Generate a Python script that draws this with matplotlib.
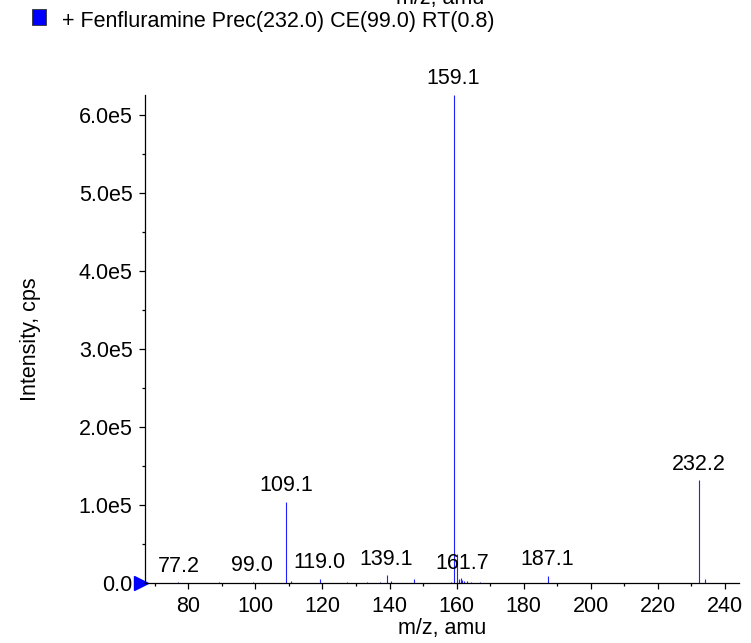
import numpy as np
import matplotlib
matplotlib.use("Agg")
import matplotlib.pyplot as plt
from matplotlib.patches import Rectangle
from matplotlib.ticker import MultipleLocator, FuncFormatter
import matplotlib.transforms as mtransforms

plt.rcParams['font.family'] = ['Liberation Sans', 'DejaVu Sans']

# peak list (m/z, intensity in cps)
mz = [77.0, 89.2, 99.2, 109.1, 110.5, 119.3, 127.2, 133.2, 137.2, 139.4,
      140.3, 147.4, 158.2, 159.1, 160.1, 160.6, 161.2, 161.7, 162.3, 163.1,
      164.2, 167.0, 187.3, 232.3, 234.1]
intensity = [1200, 800, 1500, 104000, 2500, 5500, 1000, 900, 1200, 10000,
             2000, 4500, 1500, 626000, 37000, 5000, 6000, 4000, 3000, 2500,
             1500, 1500, 9500, 132000, 5000]

# labelled peaks (label text, m/z position, intensity)
label_text = ["77.2", "99.0", "109.1", "119.0", "139.1", "159.1", "161.7", "187.1", "232.2"]
label_mz = [77.2, 99.0, 109.1, 119.0, 139.1, 159.1, 161.7, 187.1, 232.2]
label_int = [1200, 1500, 104000, 5500, 10000, 626000, 4000, 9500, 132000]

legend_text = "+ Fenfluramine Prec(232.0) CE(99.0) RT(0.8)"
x_label = "m/z, amu"
y_label = "Intensity, cps"

xmin, xmax = 67.1, 244.2
ymax = 626000
fs = 15.5


def yfmt(v, p):
    if v == 0:
        return "0.0"
    return "%.1fe5" % (v / 1e5)


fig = plt.figure(figsize=(7.51, 6.43), dpi=100)
ax = fig.add_axes([145 / 751, 1 - 583 / 643, (739 - 145) / 751, (583 - 95) / 643])

ax.vlines(mz, 0, intensity, colors='#2020ff', linewidth=0.8)

for t, x, y in zip(label_text, label_mz, label_int):
    ax.annotate(t, (x, y), xytext=(0, 4), textcoords='offset points',
                ha='center', va='bottom', fontsize=fs)

ax.set_xlim(xmin, xmax)
ax.set_ylim(0, ymax)

ax.spines['top'].set_visible(False)
ax.spines['right'].set_visible(False)
for s in ['left', 'bottom']:
    ax.spines[s].set_linewidth(0.9)

ax.xaxis.set_major_locator(MultipleLocator(20))
ax.xaxis.set_minor_locator(MultipleLocator(10))
ax.yaxis.set_major_locator(MultipleLocator(100000))
ax.yaxis.set_minor_locator(MultipleLocator(50000))
ax.yaxis.set_major_formatter(FuncFormatter(yfmt))

ax.tick_params(which='major', length=4.5, width=0.9, labelsize=fs)
ax.tick_params(which='minor', length=2.2, width=0.9)
ax.tick_params(axis='x', which='major', pad=5)
ax.tick_params(axis='y', which='major', pad=4.5)

ax.set_xlabel(x_label, fontsize=fs, labelpad=0.5)
ax.set_ylabel(y_label, fontsize=fs, labelpad=27)

# blue pointer at the y origin
trans = mtransforms.offset_copy(ax.transData, fig=fig, x=-4.5, y=0, units='dots')
ax.plot([xmin], [0], marker='>', markersize=9.5, color='#0000ff',
        transform=trans, clip_on=False)

# legend box and text
fig.patches.append(Rectangle((32 / 751, 1 - 25 / 643), 14 / 751, 16 / 643,
                             transform=fig.transFigure, facecolor='#0000ff',
                             edgecolor='#333333', linewidth=0.6))
fig.text(62 / 751, 1 - 21 / 643, legend_text, fontsize=fs, va='center', ha='left')

# clipped axis label from the panel above
fig.text(440 / 751, 1 - 4 / 643, x_label, fontsize=fs, ha='center', va='baseline')

fig.savefig("out.png", dpi=100)
